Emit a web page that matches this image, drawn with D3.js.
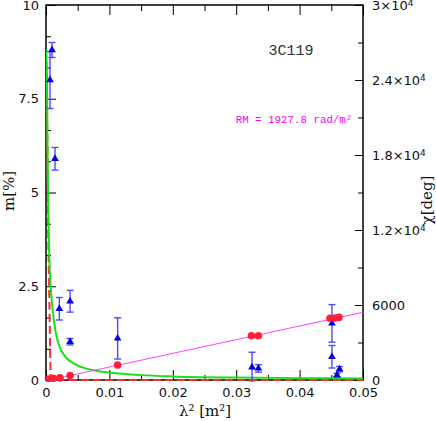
<!DOCTYPE html>
<html><head><meta charset="utf-8">
<script src="https://cdn.jsdelivr.net/npm/d3@7"></script>
<style>html,body{margin:0;padding:0;background:#fff;}</style>
</head><body>
<svg id="c" width="436" height="421"></svg>
<script>
// ---- data ----
const triLam2 = [0.00095, 0.00063, 0.00142, 0.0021, 0.0038, 0.0038, 0.0113, 0.0325, 0.0335, 0.0451, 0.0451, 0.0463, 0.0459];
const triM    = [8.8, 8.0, 5.9, 1.9, 2.1, 1.02, 1.11, 0.34, 0.31, 1.51, 0.62, 0.29, 0.13];
const triErr  = [0.2, 0.76, 0.3, 0.3, 0.29, 0.085, 0.55, 0.4, 0.1, 0.5, 0.3, 0.07, 0.05];

const chiLam2 = [0.00036, 0.00115, 0.0022, 0.0038, 0.0113, 0.0324, 0.0335, 0.0448, 0.0456, 0.0462];
const chiDeg  = [80, 140, 170, 360, 1200, 3540, 3540, 4940, 4960, 5010];

const fitLam2 = [0, 0.05];
const fitChi  = [-60, 5420];

const greenLam2 = [0, 0.00015, 0.00025, 0.00035, 0.0005, 0.0007, 0.001, 0.0015, 0.002, 0.003, 0.004, 0.0055, 0.0075, 0.01, 0.015, 0.02, 0.03, 0.04, 0.05];
const greenM    = [8.8, 8.0, 6.0, 4.6, 3.4, 2.6, 1.95, 1.3, 0.95, 0.63, 0.48, 0.35, 0.26, 0.2, 0.13, 0.095, 0.065, 0.05, 0.04];

const redLam2 = [0, 0.0001, 0.0002, 0.0003, 0.0004, 0.0005, 0.00058, 0.00065, 0.0007, 0.00078, 0.05];
const redM    = [8.8, 8.2, 6.6, 4.8, 3.4, 2.4, 1.6, 0.8, 0.3, 0, 0];

const xMajor = [0, 0.01, 0.02, 0.03, 0.04, 0.05];
const xMajorLabels = ["0", "0.01", "0.02", "0.03", "0.04", "0.05"];
const xMinor = [0.005, 0.015, 0.025, 0.035, 0.045];
const yMajor = [0, 2.5, 5, 7.5, 10];
const yMajorLabels = ["0", "2.5", "5", "7.5", "10"];
const yMinor = [0.8333, 1.6667, 3.3333, 4.1667, 5.8333, 6.6667, 8.3333, 9.1667];
const rMajor = [0, 6000, 12000, 18000, 24000, 30000];
const rMajorLabels = ["0", "6000", "1.2×10", "1.8×10", "2.4×10", "3×10"];
const rMajorSup = ["", "", "4", "4", "4", "4"];
const rMinor = [3000, 9000, 15000, 21000, 27000];

// ---- layout ----
const svg = d3.select("#c");
const L = 46, R = 363, T = 5, B = 380;
const x = d3.scaleLinear().domain([0, 0.05]).range([L, R]);
const y = d3.scaleLinear().domain([0, 10]).range([B, T]);
const yr = d3.scaleLinear().domain([0, 30000]).range([B, T]);

const tickFont = "DejaVu Sans, sans-serif";

function styleAxis(g) {
  g.select(".domain").remove();
  g.selectAll(".tick line").attr("stroke", "#000").attr("stroke-width", 1);
  g.selectAll(".tick text").attr("font-family", tickFont).attr("font-size", 13).attr("fill", "#111");
}

// bottom
svg.append("g").attr("transform", `translate(0,${B})`)
  .call(d3.axisBottom(x).tickValues(xMajor).tickSizeInner(-10).tickSizeOuter(0).tickPadding(8)
    .tickFormat((d, i) => xMajorLabels[i])).call(styleAxis);
svg.append("g").attr("transform", `translate(0,${B})`)
  .call(d3.axisBottom(x).tickValues(xMinor).tickSizeInner(-5).tickSizeOuter(0).tickFormat("")).call(styleAxis);
// top
svg.append("g").attr("transform", `translate(0,${T})`)
  .call(d3.axisTop(x).tickValues(xMajor).tickSizeInner(-10).tickSizeOuter(0).tickFormat("")).call(styleAxis);
svg.append("g").attr("transform", `translate(0,${T})`)
  .call(d3.axisTop(x).tickValues(xMinor).tickSizeInner(-6).tickSizeOuter(0).tickFormat("")).call(styleAxis);
// left
svg.append("g").attr("transform", `translate(${L},0)`)
  .call(d3.axisLeft(y).tickValues(yMajor).tickSizeInner(-10).tickSizeOuter(0).tickPadding(7)
    .tickFormat((d, i) => yMajorLabels[i])).call(styleAxis);
svg.append("g").attr("transform", `translate(${L},0)`)
  .call(d3.axisLeft(y).tickValues(yMinor).tickSizeInner(-5).tickSizeOuter(0).tickFormat("")).call(styleAxis);
// right
const rg = svg.append("g").attr("transform", `translate(${R},0)`)
  .call(d3.axisRight(yr).tickValues(rMajor).tickSizeInner(-8).tickSizeOuter(0).tickPadding(9)
    .tickFormat((d, i) => rMajorLabels[i])).call(styleAxis);
rg.selectAll(".tick text").each(function(d, i) {
  if (rMajorSup[i]) d3.select(this).append("tspan").attr("dy", "-0.45em").attr("font-size", 9).text(rMajorSup[i]);
});
svg.append("g").attr("transform", `translate(${R},0)`)
  .call(d3.axisRight(yr).tickValues(rMinor).tickSizeInner(-5).tickSizeOuter(0).tickFormat("")).call(styleAxis);

// frame
svg.append("rect").attr("x", L).attr("y", T).attr("width", R - L).attr("height", B - T)
  .attr("fill", "none").attr("stroke", "#000").attr("stroke-width", 1.5);

// clip
svg.append("clipPath").attr("id", "clip").append("rect")
  .attr("x", L).attr("y", T).attr("width", R - L).attr("height", B - T + 2);
const plot = svg.append("g").attr("clip-path", "url(#clip)");

// red dashed model
plot.append("path")
  .datum(redLam2.map((d, i) => [d, redM[i]]))
  .attr("d", d3.line().x(d => x(d[0])).y(d => y(d[1])).curve(d3.curveMonotoneX))
  .attr("fill", "none").attr("stroke", "#ff2a2a").attr("stroke-width", 2).attr("stroke-dasharray", "8,4");

// green model
plot.append("path")
  .datum(greenLam2.map((d, i) => [d, greenM[i]]))
  .attr("d", d3.line().x(d => x(d[0])).y(d => y(d[1])).curve(d3.curveMonotoneX))
  .attr("fill", "none").attr("stroke", "#16e016").attr("stroke-width", 2);

// RM fit line
plot.append("path")
  .datum(fitLam2.map((d, i) => [d, fitChi[i]]))
  .attr("d", d3.line().x(d => x(d[0])).y(d => yr(d[1])))
  .attr("fill", "none").attr("stroke", "#ff44ff").attr("stroke-width", 1);

// error bars
const tri = triLam2.map((d, i) => ({x: d, m: triM[i], e: triErr[i]}));
const eb = plot.append("g").attr("stroke", "#4b4bff").attr("stroke-width", 1.4).attr("fill", "none");
tri.forEach(p => {
  const cx = x(p.x), y1 = y(p.m + p.e), y2 = y(p.m - p.e);
  eb.append("line").attr("x1", cx).attr("x2", cx).attr("y1", y1).attr("y2", y2);
  eb.append("line").attr("x1", cx - 3.5).attr("x2", cx + 3.5).attr("y1", y1).attr("y2", y1);
  eb.append("line").attr("x1", cx - 3.5).attr("x2", cx + 3.5).attr("y1", y2).attr("y2", y2);
});
// triangles
plot.append("g").selectAll("path").data(tri).join("path")
  .attr("transform", d => `translate(${x(d.x)},${y(d.m)})`)
  .attr("d", d3.symbol().type(d3.symbolTriangle).size(26))
  .attr("fill", "#0000e0");

// red circles
plot.append("g").selectAll("circle").data(chiLam2.map((d, i) => [d, chiDeg[i]])).join("circle")
  .attr("cx", d => x(d[0])).attr("cy", d => yr(d[1])).attr("r", 3.8)
  .attr("fill", "#ff1f3a");

// texts
svg.append("text").attr("x", 291).attr("y", 55).attr("text-anchor", "middle")
  .attr("font-family", "Liberation Mono, monospace").attr("font-size", 15).attr("fill", "#333").text("3C119");
svg.append("text").attr("x", 294).attr("y", 123).attr("text-anchor", "middle")
  .attr("font-family", "Liberation Mono, monospace").attr("font-size", 10.8).attr("fill", "#ff00ff")
  .text("RM = 1927.8 rad/m²");

const titleFont = "DejaVu Serif, serif";
svg.append("text").attr("x", 205).attr("y", 416).attr("text-anchor", "middle")
  .attr("font-family", titleFont).attr("font-size", 15).attr("fill", "#111").text("λ² [m²]");
svg.append("text").attr("transform", "translate(14,191) rotate(-90)").attr("text-anchor", "middle")
  .attr("font-family", titleFont).attr("font-size", 15).attr("fill", "#111").text("m[%]");
svg.append("text").attr("transform", "translate(432,200) rotate(-90)").attr("text-anchor", "middle")
  .attr("font-family", titleFont).attr("font-size", 15).attr("fill", "#111").text("χ[deg]");
</script>
</body></html>
